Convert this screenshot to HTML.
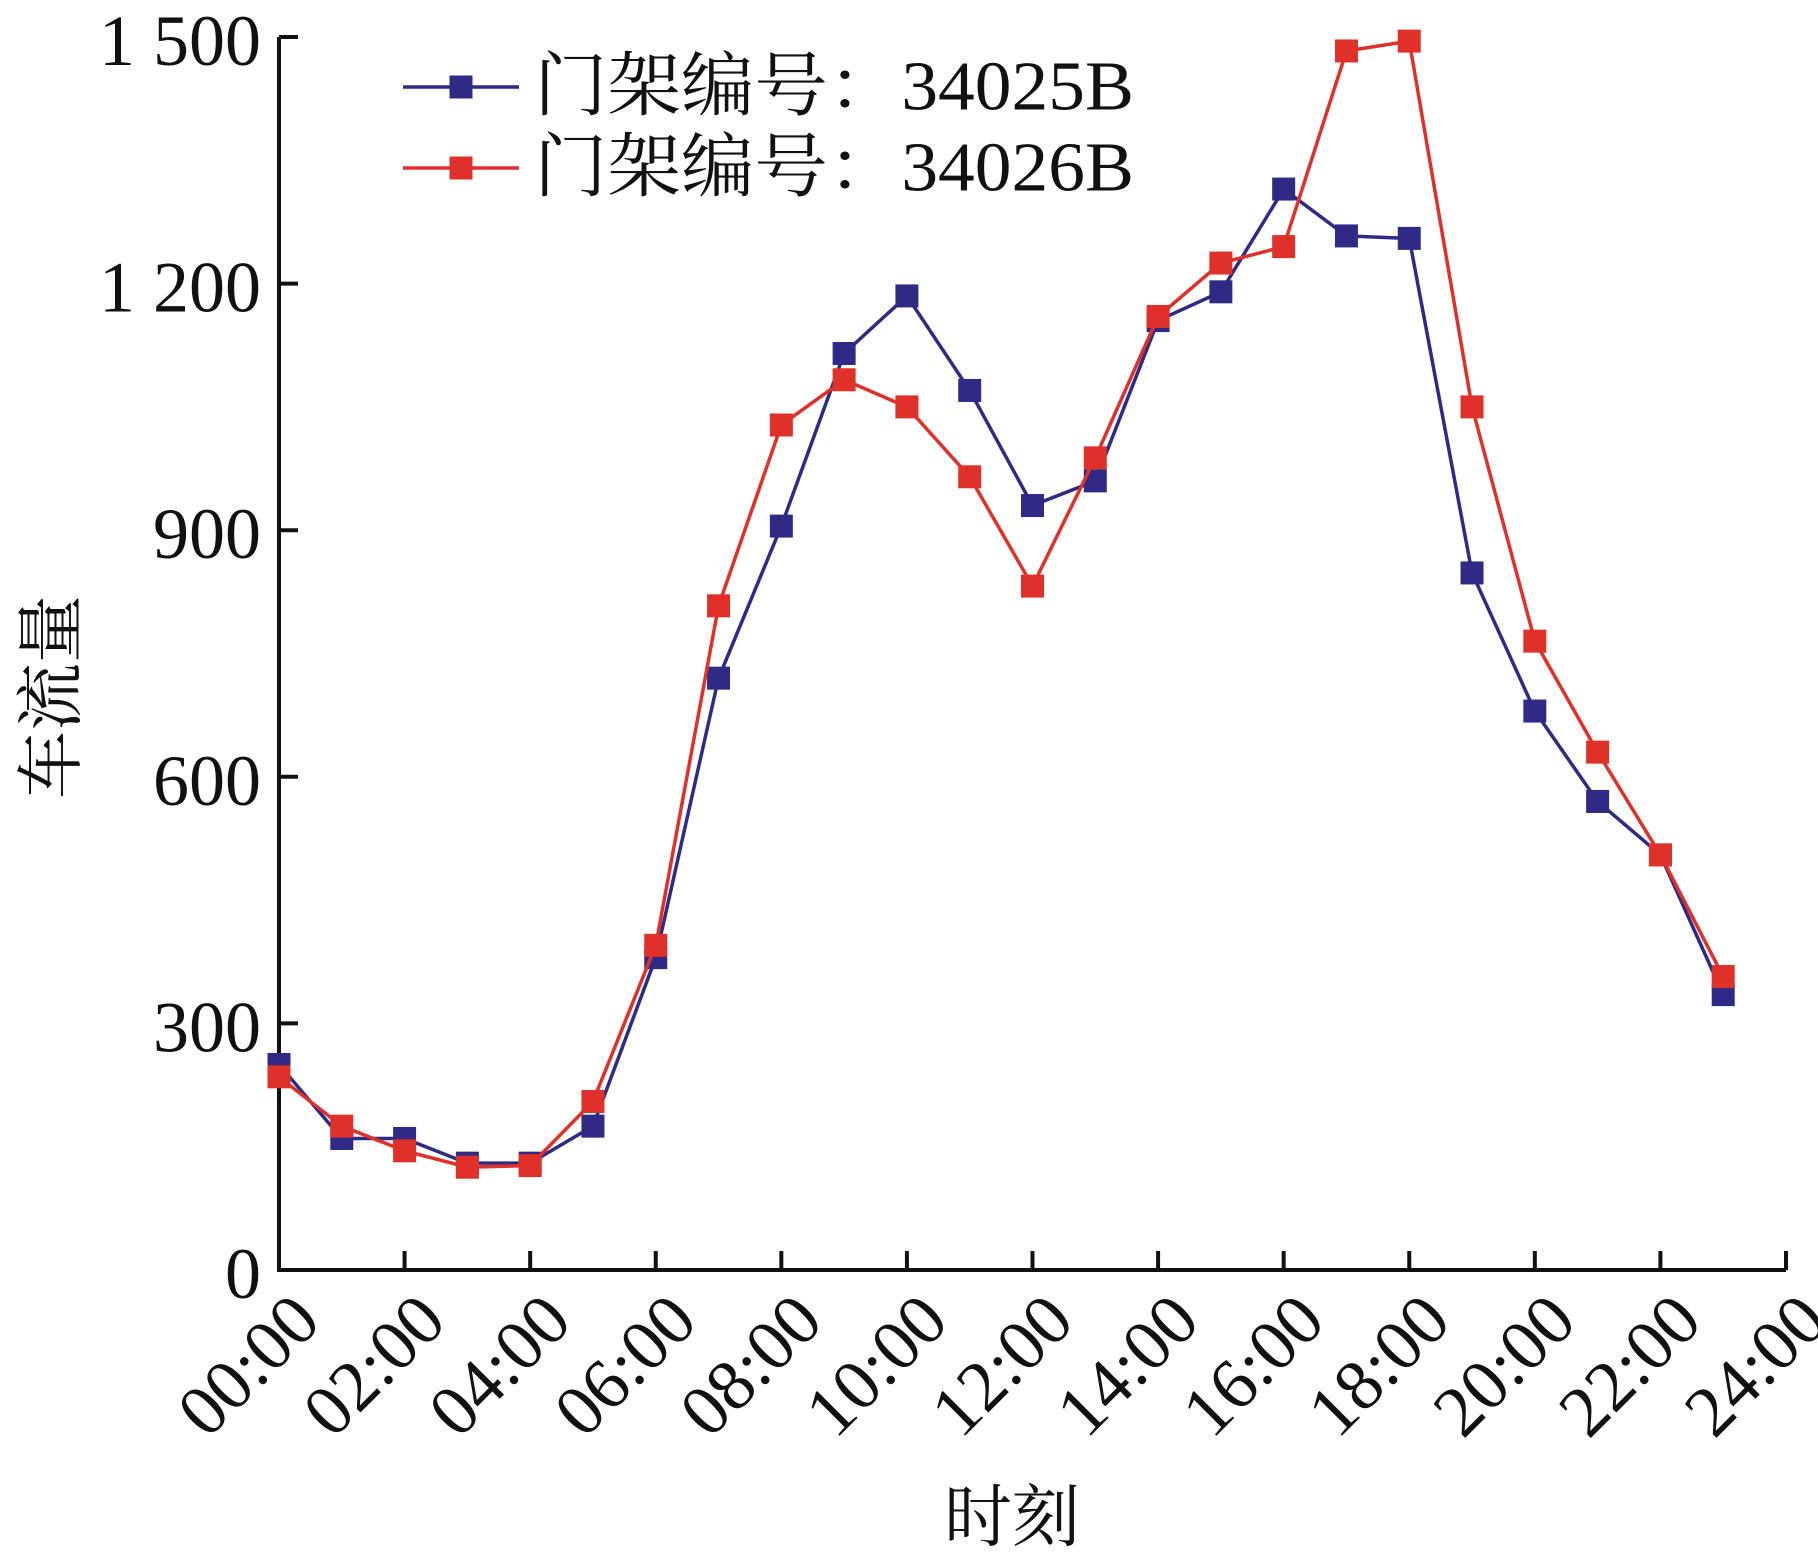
<!DOCTYPE html>
<html><head><meta charset="utf-8"><style>
body{margin:0;background:#fff}
svg text{font-family:"Liberation Serif","Noto Serif CJK SC",serif;fill:#111}
</style></head><body>
<svg id="chart" width="1818" height="1551" viewBox="0 0 1818 1551" xmlns="http://www.w3.org/2000/svg">
<g id="axes"></g>
<g id="series"></g>
<g id="legend"></g>
<text x="46" y="697" font-size="68" text-anchor="middle" dominant-baseline="central" transform="rotate(-90 46 697)" style="font-family:'Noto Serif CJK SC',serif">车流量</text>
<text x="1012" y="1512" font-size="68" text-anchor="middle" dominant-baseline="central" style="font-family:'Noto Serif CJK SC',serif">时刻</text>
</svg>
<script>
const hours = [0,1,2,3,4,5,6,7,8,9,10,11,12,13,14,15,16,17,18,19,20,21,22,23];
const series34025B = [250,160,160,130,130,175,380,720,905,1115,1185,1070,930,960,1155,1190,1315,1258,1255,848,680,570,505,335];
const series34026B = [235,175,145,125,127,205,395,808,1028,1083,1050,965,832,988,1160,1225,1245,1483,1495,1050,765,630,505,357];
const yTicks = [0,300,600,900,1200,1500];
const yTickLabels = ["0","300","600","900","1 200","1 500"];
const xTickHours = [0,2,4,6,8,10,12,14,16,18,20,22,24];
const xTickLabels = ["00:00","02:00","04:00","06:00","08:00","10:00","12:00","14:00","16:00","18:00","20:00","22:00","24:00"];
const seriesNames = ["门架编号：34025B","门架编号：34026B"];

const NS="http://www.w3.org/2000/svg";
const X0=279,X1=1786,Y0=1270,Y1=37;
const xs=h=>X0+(X1-X0)*h/24;
const ys=v=>Y0-(Y0-Y1)*v/1500;
function mk(tag,attrs,parent){const e=document.createElementNS(NS,tag);for(const k in attrs)e.setAttribute(k,attrs[k]);parent.appendChild(e);return e;}
const axes=document.getElementById('axes');
let e=mk('path',{d:`M${X0},${Y1} V${Y0} H${X1}`,fill:'none',stroke:'#111','stroke-width':4},axes);


yTicks.forEach((v,i)=>{
  const t=mk('line',{x1:X0,x2:X0+19,y1:ys(v),y2:ys(v),stroke:'#111','stroke-width':4},axes);
  
  
  const l=mk('text',{x:X0-18,y:ys(v)+4,'font-size':72,'text-anchor':'end','dominant-baseline':'central'},axes);
  l.textContent=yTickLabels[i];
  
  
});
xTickHours.forEach((h,i)=>{
  if(h>0){const t=mk('line',{x1:xs(h),x2:xs(h),y1:Y0,y2:Y0-19,stroke:'#111','stroke-width':4},axes);
  
  }
  const x=xs(h)+8,y=Y0+18;
  const l=mk('text',{x:x,y:y,'font-size':72,'text-anchor':'end','dominant-baseline':'hanging',transform:`rotate(-45 ${x} ${y})`},axes);
  l.textContent=xTickLabels[i];
  
  
});
const colors=['#2e2a85','#e0302a'];
const data=[series34025B,series34026B];
const sg=document.getElementById('series');
data.forEach((vals,si)=>{
  const g=mk('g',{},sg);
  
  
  const p=mk('polyline',{points:vals.map((v,i)=>xs(hours[i])+','+ys(v)).join(' '),fill:'none',stroke:colors[si],'stroke-width':3.5},g);
  
  
  vals.forEach((v,i)=>{
    const r=mk('rect',{x:xs(hours[i])-11.5,y:ys(v)-11.5,width:23,height:23,fill:colors[si]},g);
    
    
  });
});
const lg=document.getElementById('legend');
[87,168].forEach((y,i)=>{
  const g=mk('g',{},lg);
  
  
  mk('line',{x1:403,x2:519,y1:y,y2:y,stroke:colors[i],'stroke-width':3.5},g);
  mk('rect',{x:461-11.5,y:y-11.5,width:23,height:23,fill:colors[i]},g);
  const t=mk('text',{x:534,y:y,'font-size':70,'dominant-baseline':'central',textLength:600,lengthAdjust:'spacingAndGlyphs'},g);
  t.textContent=seriesNames[i];
  
  
});
</script>
</body></html>
